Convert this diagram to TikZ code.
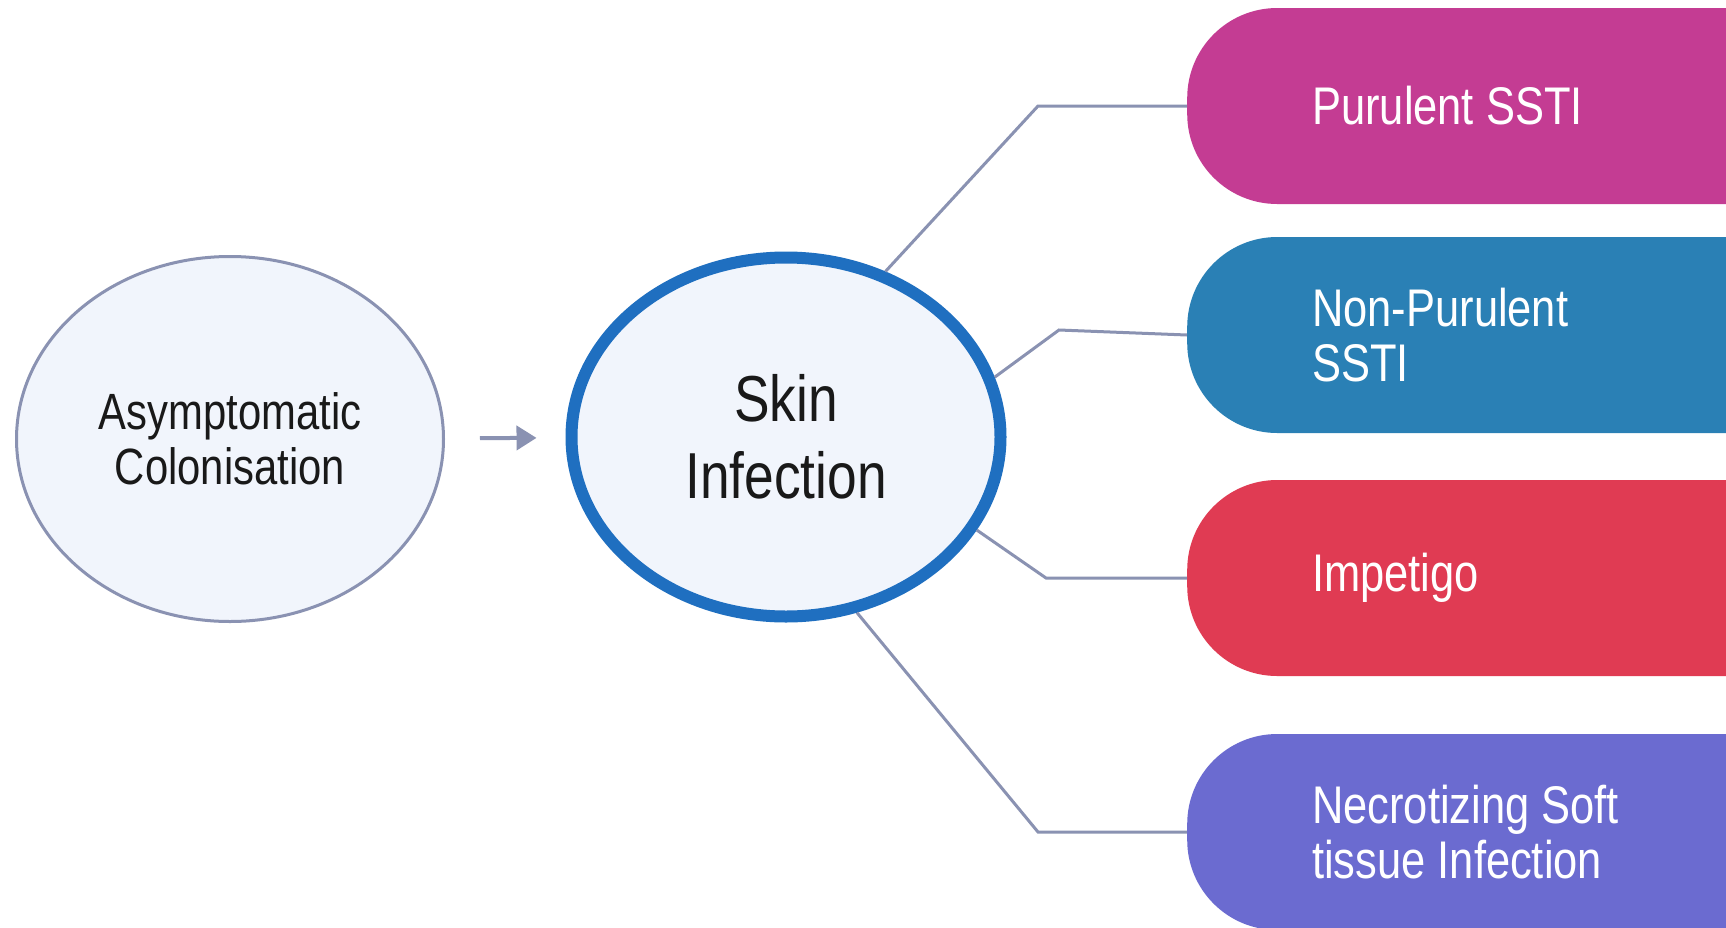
\documentclass[tikz,border=0pt]{standalone}
\usepackage{xcolor}
\usepackage{fontspec}
\setmainfont[FakeStretch=0.82]{Liberation Sans}
\usepackage{tikz}
\usetikzlibrary{shapes.geometric,arrows.meta}
\definecolor{pur}{HTML}{C43C93}
\definecolor{npur}{HTML}{2A80B5}
\definecolor{imp}{HTML}{E03B53}
\definecolor{nec}{HTML}{6B6BD0}
\definecolor{rim}{HTML}{1F6FC0}
\definecolor{pale}{HTML}{F1F5FC}
\definecolor{wire}{HTML}{8A92B2}

\begin{document}
\begin{tikzpicture}[x=1pt, y=-1pt,
  blob/.style={ellipse, fill=pale, align=center, inner sep=0pt,
               text=black!90},
  pill/.style={rectangle, rounded corners=90pt, anchor=west,
               minimum height=196pt, text width=560pt, align=flush left,
               inner xsep=125pt, inner ysep=0pt, text=white,
               font=\fontsize{53}{55}\selectfont},
  link/.style={line width=3pt, color=wire},
  arr/.style={-{Triangle[length=20pt,width=24pt]}, line width=4pt,
              color=wire, shorten <=35pt, shorten >=29pt}]
  \fill[white] (0,0) rectangle (1726,927);
  \useasboundingbox (0,0) rectangle (1726,927);
  \clip (0,0) rectangle (1726,927);
  \node[blob, draw=wire, line width=3pt, minimum width=427pt,
        minimum height=365pt, font=\fontsize{51}{55}\selectfont]
        (asym) at (230,439) {Asymptomatic\\Colonisation};
  \node[blob, draw=rim, line width=12pt, minimum width=429pt,
        minimum height=359pt, font=\fontsize{65}{77}\selectfont]
        (skin) at (786,437) {Skin\\Infection};
  \node[pill, fill=pur]  (pur)  at (1187,106) {Purulent SSTI};
  \node[pill, fill=npur] (npur) at (1187,335) {Non-Purulent\\SSTI};
  \node[pill, fill=imp]  (imp)  at (1187,578) {Impetigo};
  \node[pill, fill=nec]  (nec)  at (1187,832) {Necrotizing Soft\\tissue Infection};
  \draw[arr] (asym) -- (skin);
  \foreach \ang/\dx/\dy/\p in {59/-149/0/pur,16/-128/5/npur,
                               -26/-141/0/imp,-68/-149/0/nec}
    {\draw[link] (skin.\ang) -- ([xshift=\dx pt,yshift=\dy pt]\p.west)
                 -- (\p.west);}
\end{tikzpicture}
\end{document}
